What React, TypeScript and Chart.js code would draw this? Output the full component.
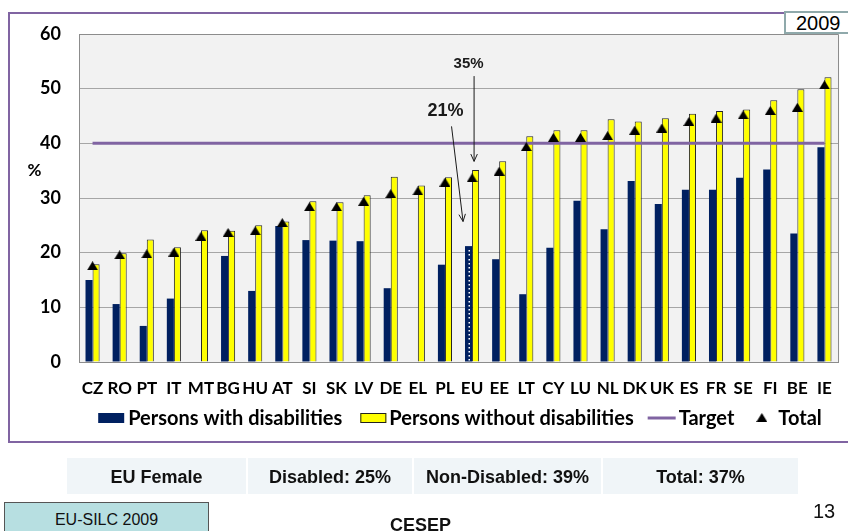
import React, { useEffect, useRef } from 'react';
import { Chart, registerables } from 'chart.js';

Chart.register(...registerables);

// ---------- data ----------
const categories = ['CZ', 'RO', 'PT', 'IT', 'MT', 'BG', 'HU', 'AT', 'SI', 'SK', 'LV', 'DE', 'EL', 'PL', 'EU', 'EE', 'LT', 'CY', 'LU', 'NL', 'DK', 'UK', 'ES', 'FR', 'SE', 'FI', 'BE', 'IE'];
const withDisabilities = [15.0, 10.6, 6.6, 11.6, null, 19.4, 13.0, 24.9, 22.3, 22.2, 22.1, 13.5, null, 17.8, 21.2, 18.8, 12.4, 20.9, 29.5, 24.3, 33.1, 28.9, 31.5, 31.5, 33.7, 35.2, 23.5, 39.3];
const withoutDisabilities = [17.9, 19.9, 22.4, 21.0, 24.1, 24.0, 25.0, 25.7, 29.4, 29.2, 30.5, 33.9, 32.3, 33.8, 35.1, 36.7, 41.3, 42.4, 42.4, 44.4, 44.0, 44.6, 45.4, 45.9, 46.2, 47.9, 49.9, 52.1];
const totalValues = [17.6, 19.6, 19.8, 20.1, 23.0, 23.7, 24.0, 25.5, 28.4, 28.4, 29.4, 30.8, 31.3, 32.9, 33.7, 34.9, 39.4, 41.1, 41.1, 41.4, 42.4, 42.8, 44.0, 44.6, 45.2, 46.0, 46.6, 50.7];
const targetValues = [40, 40, 40, 40, 40, 40, 40, 40, 40, 40, 40, 40, 40, 40, 40, 40, 40, 40, 40, 40, 40, 40, 40, 40, 40, 40, 40, 40];
const seriesNames = ['Persons with disabilities', 'Persons without disabilities', 'Target', 'Total'];
const yMin = 0;
const yMax = 60;
const yStep = 10;
const axisTitle = '%';
const yearLabel = '2009';
const annotationTexts = ['35%', '21%'];
const annotationCategory = 'EU';
const summaryCells = ['EU Female', 'Disabled: 25%', 'Non-Disabled: 39%', 'Total: 37%'];
const sourceLabel = 'EU-SILC 2009';
const footerLabel = 'CESEP';
const pageNumber = '13';

// ---------- style ----------
const NAVY = '#002060';
const YELLOW = '#ffff00';
const PURPLE = '#8064a2';
const FONT = 'Lato, "Open Sans", sans-serif';
const ARIAL = '"Liberation Sans", Arial, sans-serif';

function makeTriangle(w: number, h: number): HTMLCanvasElement {
  const c = document.createElement('canvas');
  c.width = w;
  c.height = h;
  const g = c.getContext('2d')!;
  g.fillStyle = '#000';
  g.beginPath();
  g.moveTo(w / 2, 0);
  g.lineTo(w, h);
  g.lineTo(0, h);
  g.closePath();
  g.fill();
  return c;
}

function drawArrow(ctx: CanvasRenderingContext2D, x1: number, y1: number, x2: number, y2: number) {
  ctx.beginPath();
  ctx.moveTo(x1, y1);
  ctx.lineTo(x2, y2);
  ctx.stroke();
  const a = Math.atan2(y2 - y1, x2 - x1);
  const L = 8;
  const s = 0.42;
  ctx.beginPath();
  ctx.moveTo(x2 - L * Math.cos(a - s), y2 - L * Math.sin(a - s));
  ctx.lineTo(x2, y2);
  ctx.lineTo(x2 - L * Math.cos(a + s), y2 - L * Math.sin(a + s));
  ctx.stroke();
}

export default function App() {
  const ref = useRef<HTMLCanvasElement | null>(null);

  useEffect(() => {
    const canvas = ref.current;
    if (!canvas) return;
    const tri = makeTriangle(11, 9);

    const plotBg = {
      id: 'plotBg',
      beforeDraw(chart: any) {
        const { ctx, chartArea: a } = chart;
        ctx.save();
        ctx.fillStyle = '#f2f2f2';
        ctx.fillRect(a.left, a.top, a.right - a.left, a.bottom - a.top);
        ctx.restore();
      },
      beforeDatasetsDraw(chart: any) {
        const { ctx, chartArea: a } = chart;
        ctx.save();
        ctx.strokeStyle = '#8c8c8c';
        ctx.lineWidth = 1;
        ctx.beginPath();
        ctx.moveTo(a.left, a.top + 0.5);
        ctx.lineTo(a.right + 0.5, a.top + 0.5);
        ctx.lineTo(a.right + 0.5, a.bottom);
        ctx.stroke();
        ctx.restore();
      },
    };

    const overlay = {
      id: 'overlay',
      afterDatasetsDraw(chart: any) {
        const { ctx, chartArea: a } = chart;
        const yS = chart.scales.y;
        const idx = categories.indexOf(annotationCategory);
        const navyEl = chart.getDatasetMeta(2).data[idx];
        const yellowEl = chart.getDatasetMeta(3).data[idx];
        ctx.save();
        // dotted EU bar
        if (navyEl) {
          ctx.fillStyle = '#ffffff';
          for (let yy = navyEl.y + 4; yy < navyEl.base - 2; yy += 4.2) {
            ctx.fillRect(Math.round(navyEl.x) - 0.5, Math.round(yy), 1.5, 1.5);
          }
        }
        // annotations
        ctx.strokeStyle = '#1a1a1a';
        ctx.lineWidth = 1;
        ctx.fillStyle = '#1a1a1a';
        ctx.textAlign = 'center';
        ctx.textBaseline = 'middle';
        if (yellowEl) {
          ctx.font = `bold 15px ${ARIAL}`;
          ctx.fillText(annotationTexts[0], yellowEl.x - 7, yS.getPixelForValue(54.5));
          drawArrow(ctx, yellowEl.x - 1.5, yS.getPixelForValue(52.3), yellowEl.x - 1.5, yS.getPixelForValue(36.7));
        }
        if (navyEl) {
          ctx.font = `bold 18px ${ARIAL}`;
          ctx.fillText(annotationTexts[1], navyEl.x - 23, yS.getPixelForValue(45.9));
          drawArrow(ctx, navyEl.x - 17, yS.getPixelForValue(43.1), navyEl.x - 5.5, yS.getPixelForValue(25.7));
        }
        // axis title
        ctx.fillStyle = '#000';
        ctx.font = `bold 17px ${FONT}`;
        ctx.fillText(axisTitle, a.left - 44.5, yS.getPixelForValue(35));

        // legend
        const ly = a.bottom + 56;
        ctx.font = `bold 20px ${FONT}`;
        ctx.textAlign = 'left';
        const iconW = [26, 26, 28, 12];
        const iconGap = [4, 3, 3, 10];
        const itemGap = [18, 14, 22];
        const tw = seriesNames.map((s) => ctx.measureText(s).width);
        let total = 0;
        for (let i = 0; i < 4; i++) total += iconW[i] + iconGap[i] + tw[i] + (i < 3 ? itemGap[i] : 0);
        let x = 460 - total / 2;
        for (let i = 0; i < 4; i++) {
          if (i === 0) {
            ctx.fillStyle = NAVY;
            ctx.fillRect(x, ly - 5, iconW[i], 10);
          } else if (i === 1) {
            ctx.fillStyle = YELLOW;
            ctx.fillRect(x, ly - 5, iconW[i], 10);
            ctx.strokeStyle = '#222';
            ctx.lineWidth = 1;
            ctx.strokeRect(x + 0.5, ly - 4.5, iconW[i] - 1, 9);
          } else if (i === 2) {
            ctx.strokeStyle = PURPLE;
            ctx.lineWidth = 3;
            ctx.beginPath();
            ctx.moveTo(x, ly);
            ctx.lineTo(x + iconW[i], ly);
            ctx.stroke();
          } else {
            ctx.drawImage(tri, x, ly - 5, 11, 9);
          }
          x += iconW[i] + iconGap[i];
          ctx.fillStyle = '#000';
          ctx.fillText(seriesNames[i], x, ly + 1);
          x += tw[i] + (i < 3 ? itemGap[i] : 0);
        }
        ctx.restore();
      },
    };

    const chart = new Chart(canvas, {
      type: 'bar',
      data: {
        labels: categories,
        datasets: [
          {
            type: 'line',
            label: seriesNames[3],
            data: totalValues,
            showLine: false,
            pointStyle: tri as any,
            pointRadius: 6,
            order: 0,
          } as any,
          {
            type: 'line',
            label: seriesNames[2],
            data: targetValues,
            borderColor: PURPLE,
            borderWidth: 3,
            pointRadius: 0,
            fill: false,
            order: 1,
          },
          {
            type: 'bar',
            label: seriesNames[0],
            data: withDisabilities,
            backgroundColor: NAVY,
            borderWidth: 0,
            order: 2,
            categoryPercentage: 0.52,
            barPercentage: 1,
          } as any,
          {
            type: 'bar',
            label: seriesNames[1],
            data: withoutDisabilities,
            backgroundColor: YELLOW,
            borderColor: '#262626',
            borderWidth: 1,
            order: 3,
            categoryPercentage: 0.52,
            barPercentage: 1,
          } as any,
        ],
      },
      options: {
        responsive: false,
        animation: false,
        devicePixelRatio: 1,
        layout: { padding: { top: 34, right: 5, left: 0, bottom: 0 } },
        plugins: {
          legend: { display: false },
          tooltip: { enabled: false },
        },
        scales: {
          x: {
            grid: { display: false, drawTicks: false },
            border: { display: true, color: '#8c8c8c' },
            ticks: { font: { family: FONT, size: 17, weight: 'bold' }, color: '#000', padding: 16, autoSkip: false, maxRotation: 0 },
            afterFit: (s: any) => { s.height = 169; },
          },
          y: {
            min: yMin,
            max: yMax,
            grid: { color: '#a6a6a6', drawTicks: false, lineWidth: 1 },
            border: { display: true, color: '#8c8c8c' },
            ticks: { stepSize: yStep, font: { family: FONT, size: 18, weight: 'bold' }, color: '#000', padding: 18 },
            afterFit: (s: any) => { s.width = 79; },
          },
        },
      } as any,
      plugins: [plotBg, overlay],
    });
    return () => chart.destroy();
  }, []);

  const cellWidths = [179, 164, 187, 195];

  return (
    <div style={{ position: 'fixed', left: 0, top: 0, width: 848, height: 531, overflow: 'hidden', background: '#fff' }}>
      <div style={{ position: 'absolute', left: 8, top: 12, width: 900, height: 431, border: `2px solid ${PURPLE}`, boxSizing: 'border-box' }} />
      <canvas ref={ref} width={848} height={531} style={{ position: 'absolute', left: 0, top: 0, width: 848, height: 531 }} />
      <div style={{ position: 'absolute', left: 784, top: 11, width: 72, height: 23, border: '2px solid #8fa9ab', background: '#fff', boxSizing: 'border-box', font: `20px ${ARIAL}`, lineHeight: '20px', paddingLeft: 10, color: '#000' }}>{yearLabel}</div>
      <div style={{ position: 'absolute', left: 67, top: 458, height: 36, display: 'flex', gap: 2 }}>
        {summaryCells.map((t, i) => (
          <div key={t} style={{ width: cellWidths[i], height: 36, background: '#f0f5f8', display: 'flex', alignItems: 'center', justifyContent: 'center', font: `bold 18px ${ARIAL}`, color: '#111', paddingTop: 3, boxSizing: 'border-box' }}>{t}</div>
        ))}
      </div>
      <div style={{ position: 'absolute', left: 4, top: 502, width: 205, height: 40, background: '#b7dfe1', border: '1px solid #555', boxSizing: 'border-box', font: `16px ${ARIAL}`, color: '#111', textAlign: 'center', paddingTop: 8 }}>{sourceLabel}</div>
      <div style={{ position: 'absolute', left: 390, top: 515, font: `bold 18px ${ARIAL}`, color: '#111' }}>{footerLabel}</div>
      <div style={{ position: 'absolute', left: 813, top: 500, font: `20px ${ARIAL}`, color: '#111' }}>{pageNumber}</div>
    </div>
  );
}
